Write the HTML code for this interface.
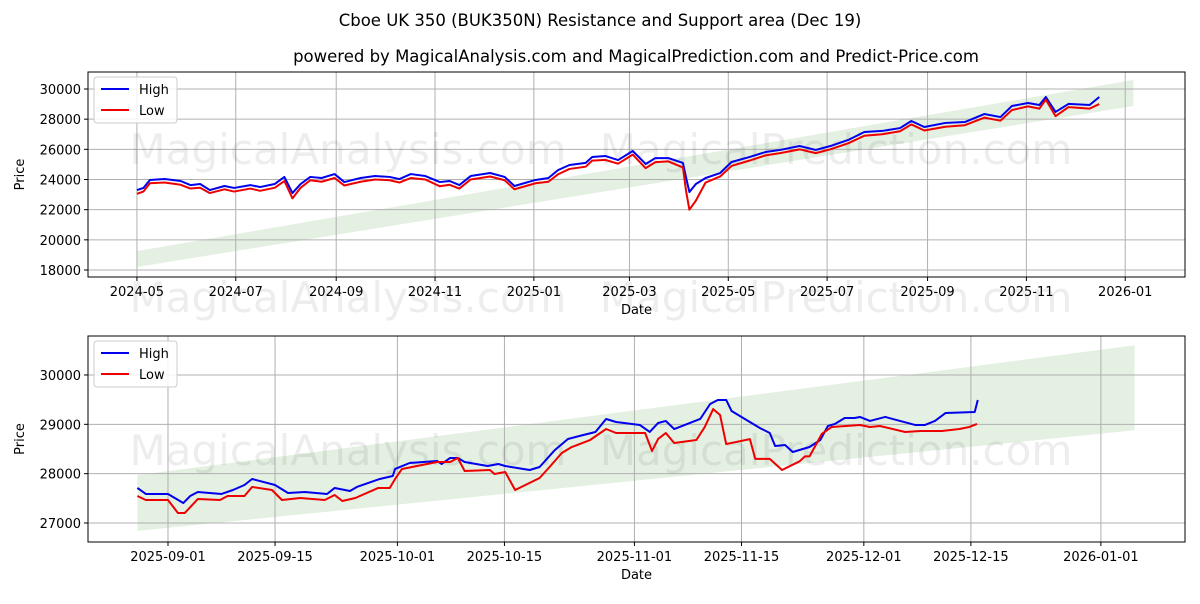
<!DOCTYPE html>
<html><head><meta charset="utf-8"><style>
body{margin:0;background:#fff;font-family:"DejaVu Sans",sans-serif}
svg text{font-family:"DejaVu Sans","Liberation Sans",sans-serif}
</style></head><body>
<svg id="c" width="1200" height="600" xmlns="http://www.w3.org/2000/svg"></svg>
<script>
// top chart data (days from 2024-05-01)
const topDays=[0,4,8,17,27,33,39,45,54,60,70,76,85,91,96,101,107,114,122,128,138,147,156,162,169,178,187,193,199,206,218,227,233,246,254,260,267,277,281,289,297,306,314,320,328,337,339,341,345,351,360,367,378,388,397,409,419,428,439,449,460,471,478,486,499,511,523,533,540,550,557,561,567,575,588,594];
const topHigh=[23300,23440,23970,24030,23900,23630,23700,23300,23570,23440,23630,23500,23700,24170,23100,23700,24170,24100,24360,23830,24100,24230,24170,24030,24360,24230,23830,23900,23630,24230,24430,24170,23570,23970,24100,24630,24960,25100,25490,25560,25290,25890,25030,25420,25420,25100,24100,23170,23700,24100,24430,25160,25490,25820,25960,26220,25960,26220,26620,27150,27220,27410,27880,27480,27750,27810,28340,28140,28870,29070,28940,29470,28480,29010,28940,29470];
const topLow=[23050,23200,23750,23800,23650,23400,23450,23100,23350,23200,23400,23250,23450,23900,22750,23450,23950,23850,24100,23600,23850,24000,23950,23800,24100,24000,23550,23650,23400,24000,24200,23950,23350,23750,23850,24350,24700,24850,25250,25300,25050,25650,24750,25150,25200,24800,23200,22000,22600,23800,24200,24900,25250,25600,25750,26000,25750,26000,26400,26900,27000,27200,27650,27250,27500,27600,28100,27900,28600,28850,28700,29300,28200,28800,28700,29000];
const topBandDays=[0,615], topBandLo=[18200,28870], topBandHi=[19250,30600];
const topYTicks=[18000,20000,22000,24000,26000,28000,30000];
const topXTickLabels=["2024-05","2024-07","2024-09","2024-11","2025-01","2025-03","2025-05","2025-07","2025-09","2025-11","2026-01"];
const topXTickDays=[0,61,123,184,245,304,365,426,488,549,610];
// bottom chart data (days from 2025-09-01)
const botHighDays=[-4,-2.9,0,2,2.9,3.9,7,8.5,10,11,14,15.7,17.9,20.8,21.8,23.8,24.7,27.7,29.4,29.7,31.6,35.2,35.8,36.9,37.9,38.8,41.8,43.2,44.1,47.3,48.6,50.6,52.3,53.8,55.9,57.3,58.6,61.7,63,64.1,65.1,66.2,69.6,70.9,71.9,73,73.7,77.4,78.7,79.4,80.7,81.7,83.9,85.3,86.3,87.2,88.5,89.8,90.5,91.8,93.8,97.7,99,100.3,101.7,105.5,105.9];
const botHigh=[27710,27588,27588,27405,27547,27628,27588,27669,27770,27892,27770,27608,27628,27588,27710,27649,27730,27892,27953,28095,28216,28257,28196,28318,28318,28236,28155,28196,28155,28074,28135,28480,28703,28763,28845,29108,29047,28987,28845,29027,29068,28905,29108,29412,29493,29493,29270,28926,28824,28561,28581,28439,28540,28682,28966,29007,29128,29128,29149,29068,29149,28987,28987,29068,29230,29250,29493];
const botLowDays=[-4,-2.9,0,1.3,2.2,3.9,6.8,7.8,10,11,13.6,14.9,17.3,20.5,21.8,22.8,24.5,27.5,29,29.7,30.6,35.2,36.9,37.9,38.8,42.1,42.7,44.1,45.4,48.6,49.9,51.5,52.8,55.2,57.3,58.6,62.4,63.3,64.1,65.1,66.2,69.1,70.2,71.3,72.2,73,76.1,76.8,77.4,78.7,80.3,82.6,83.3,83.9,85.5,86.8,90.5,91.8,93.1,96.4,98.4,101.2,103.5,104.8,105.8];
const botLow=[27547,27466,27466,27203,27203,27486,27466,27547,27547,27730,27669,27466,27507,27466,27568,27446,27507,27710,27710,27892,28095,28236,28236,28318,28054,28074,27993,28034,27669,27912,28135,28419,28540,28682,28905,28824,28824,28460,28703,28824,28622,28682,28947,29309,29188,28600,28700,28300,28300,28300,28074,28250,28350,28350,28804,28946,28987,28946,28966,28845,28865,28865,28905,28946,29007];
const botBandDays=[-4,126.4], botBandLo=[26840,28880], botBandHi=[27970,30600];
const botYTicks=[27000,28000,29000,30000];
const botXTickLabels=["2025-09-01","2025-09-15","2025-10-01","2025-10-15","2025-11-01","2025-11-15","2025-12-01","2025-12-15","2026-01-01"];
const botXTickDays=[0,14,30,44,61,75,91,105,122];

const NS="http://www.w3.org/2000/svg", svg=document.getElementById('c');
function el(t,a,p){const e=document.createElementNS(NS,t);for(const k in a)e.setAttribute(k,a[k]);(p||svg).appendChild(e);return e;}
function txt(s,x,y,a,p){const e=el('text',Object.assign({x:x,y:y,'font-size':13,fill:'#000'},a),p);e.textContent=s;return e;}

const t1=txt("Cboe UK 350 (BUK350N) Resistance and Support area (Dec 19)",600,26,{'text-anchor':'middle','font-size':16.5});


const t2=txt("powered by MagicalAnalysis.com and MagicalPrediction.com and Predict-Price.com",636,62,{'text-anchor':'middle','font-size':16.5});



function panel(o){
  const g=el('g',{});
  
  
  const X=d=>o.L+(d-o.d0)/(o.d1-o.d0)*(o.R-o.L);
  const Y=v=>o.B-(v-o.v0)/(o.v1-o.v0)*(o.B-o.T);
  const bd=o.bandDays;
  const band=el('polygon',{points:`${X(bd[0])},${Y(o.bandHi[0])} ${X(bd[1])},${Y(o.bandHi[1])} ${X(bd[1])},${Y(o.bandLo[1])} ${X(bd[0])},${Y(o.bandLo[0])}`,fill:'#2e8b22',opacity:0.13},g);
  
  
  o.yTicks.forEach(v=>{
    el('line',{x1:o.L,x2:o.R,y1:Y(v),y2:Y(v),stroke:'#b0b0b0','stroke-width':1},g);
    el('line',{x1:o.L-4,x2:o.L,y1:Y(v),y2:Y(v),stroke:'#000'},g);
    const t=txt(String(v),o.L-7,Y(v)+5,{'text-anchor':'end'},g);
    
    
  });
  o.xDays.forEach((d,i)=>{
    el('line',{x1:X(d),x2:X(d),y1:o.T,y2:o.B,stroke:'#b0b0b0','stroke-width':1},g);
    el('line',{x1:X(d),x2:X(d),y1:o.B,y2:o.B+4,stroke:'#000'},g);
    const t=txt(o.xLabels[i],X(d),o.B+19,{'text-anchor':'middle'},g);
    
    
  });
  o.wm.forEach(w=>{const t=txt(w[0],w[1],w[2],{'text-anchor':'middle','font-size':42,fill:'#000','fill-opacity':0.07},g);
    
    });
  const line=(ds,vs,c,n)=>{const p=el('polyline',{points:ds.map((d,i)=>X(d)+','+Y(vs[i])).join(' '),fill:'none',stroke:c,'stroke-width':2,'stroke-linejoin':'round'},g);
    
    };
  line(o.hd,o.hv,'#0000ee','high-line');
  line(o.ld,o.lv,'#ee0000','low-line');
  el('rect',{x:o.L,y:o.T,width:o.R-o.L,height:o.B-o.T,fill:'none',stroke:'#000','stroke-width':1},g);
  const yl=txt('Price',o.L-64,(o.T+o.B)/2,{'text-anchor':'middle',transform:`rotate(-90 ${o.L-64} ${(o.T+o.B)/2})`},g);
  
  
  const xl=txt('Date',(o.L+o.R)/2,o.B+37,{'text-anchor':'middle'},g);
  
  
  const lg=el('g',{},g);
  
  
  el('rect',{x:o.L+6,y:o.T+5,width:83,height:46,rx:3,fill:'#fff','fill-opacity':0.85,stroke:'#ccc'},lg);
  el('line',{x1:o.L+13,x2:o.L+41,y1:o.T+17,y2:o.T+17,stroke:'#0000ee','stroke-width':2},lg);
  el('line',{x1:o.L+13,x2:o.L+41,y1:o.T+38,y2:o.T+38,stroke:'#ee0000','stroke-width':2},lg);
  const lh=txt('High',o.L+51,o.T+22,{},lg);
  
  
  const ll=txt('Low',o.L+51,o.T+43,{},lg);
  
  
}
panel({name:'top-panel',L:88,R:1185,T:72,B:277,d0:-30.2,d1:646.9,v0:17536,v1:31127,
  bandDays:topBandDays,bandLo:topBandLo,bandHi:topBandHi,yTicks:topYTicks,xDays:topXTickDays,xLabels:topXTickLabels,
  hd:topDays,hv:topHigh,ld:topDays,lv:topLow,
  wm:[["MagicalAnalysis.com",348,164],["MagicalPrediction.com",836,164],["MagicalAnalysis.com",348,312],["MagicalPrediction.com",836,312]]});
panel({name:'bottom-panel',L:88,R:1185,T:336,B:542,d0:-10.46,d1:133,v0:26615,v1:30790,
  bandDays:botBandDays,bandLo:botBandLo,bandHi:botBandHi,yTicks:botYTicks,xDays:botXTickDays,xLabels:botXTickLabels,
  hd:botHighDays,hv:botHigh,ld:botLowDays,lv:botLow,
  wm:[["MagicalAnalysis.com",348,465],["MagicalPrediction.com",836,465]]});
</script>
</body></html>
